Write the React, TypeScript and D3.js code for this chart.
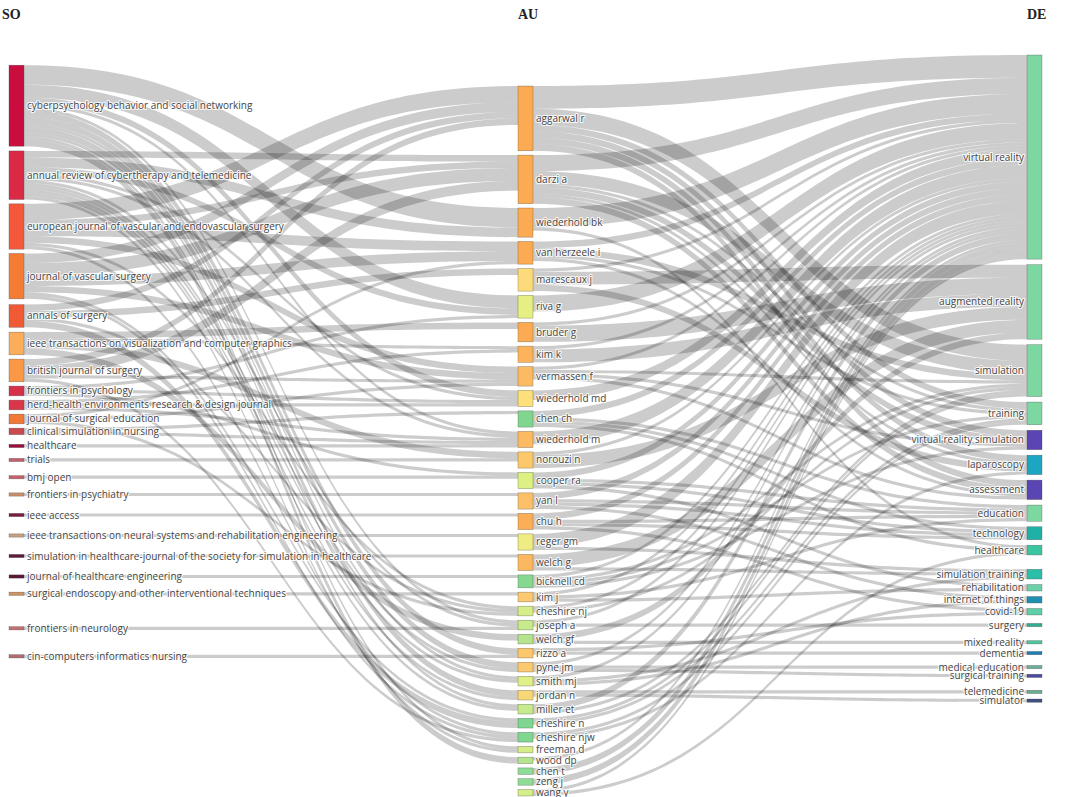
import React, { useMemo } from 'react';
import * as d3 from 'd3';

// ---------- DATA ----------
const SO = [
  'cyberpsychology behavior and social networking',
  'annual review of cybertherapy and telemedicine',
  'european journal of vascular and endovascular surgery',
  'journal of vascular surgery',
  'annals of surgery',
  'ieee transactions on visualization and computer graphics',
  'british journal of surgery',
  'frontiers in psychology',
  'herd-health environments research & design journal',
  'journal of surgical education',
  'clinical simulation in nursing',
  'healthcare',
  'trials',
  'bmj open',
  'frontiers in psychiatry',
  'ieee access',
  'ieee transactions on neural systems and rehabilitation engineering',
  'simulation in healthcare-journal of the society for simulation in healthcare',
  'journal of healthcare engineering',
  'surgical endoscopy and other interventional techniques',
  'frontiers in neurology',
  'cin-computers informatics nursing',
];

const AU = [
  'aggarwal r', 'darzi a', 'wiederhold bk', 'van herzeele i', 'marescaux j', 'riva g', 'bruder g',
  'kim k', 'vermassen f', 'wiederhold md', 'chen ch', 'wiederhold m', 'norouzi n', 'cooper ra',
  'yan l', 'chu h', 'reger gm', 'welch g', 'bicknell cd', 'kim j', 'cheshire nj', 'joseph a',
  'welch gf', 'rizzo a', 'pyne jm', 'smith mj', 'jordan n', 'miller et', 'cheshire n',
  'cheshire njw', 'freeman d', 'wood dp', 'chen t', 'zeng j', 'wang y',
];

const DE = [
  'virtual reality', 'augmented reality', 'simulation', 'training', 'virtual reality simulation',
  'laparoscopy', 'assessment', 'education', 'technology', 'healthcare', 'simulation training',
  'rehabilitation', 'internet of things', 'covid-19', 'surgery', 'mixed reality', 'dementia',
  'medical education', 'surgical training', 'telemedicine', 'simulator',
];

// source (SO) -> author (AU), value
const SO_AU: [string, string, number][] = [
  ['cyberpsychology behavior and social networking', 'wiederhold bk', 6],
  ['cyberpsychology behavior and social networking', 'riva g', 4],
  ['cyberpsychology behavior and social networking', 'wiederhold md', 2],
  ['cyberpsychology behavior and social networking', 'wiederhold m', 1],
  ['cyberpsychology behavior and social networking', 'rizzo a', 2],
  ['cyberpsychology behavior and social networking', 'pyne jm', 2],
  ['cyberpsychology behavior and social networking', 'joseph a', 1],
  ['cyberpsychology behavior and social networking', 'jordan n', 2],
  ['cyberpsychology behavior and social networking', 'freeman d', 1],
  ['cyberpsychology behavior and social networking', 'wood dp', 2],
  ['cyberpsychology behavior and social networking', 'miller et', 1],
  ['cyberpsychology behavior and social networking', 'smith mj', 1],
  ['annual review of cybertherapy and telemedicine', 'darzi a', 2],
  ['annual review of cybertherapy and telemedicine', 'wiederhold bk', 3],
  ['annual review of cybertherapy and telemedicine', 'riva g', 2],
  ['annual review of cybertherapy and telemedicine', 'wiederhold md', 1],
  ['annual review of cybertherapy and telemedicine', 'wiederhold m', 1],
  ['annual review of cybertherapy and telemedicine', 'pyne jm', 1],
  ['annual review of cybertherapy and telemedicine', 'joseph a', 1],
  ['annual review of cybertherapy and telemedicine', 'jordan n', 1],
  ['annual review of cybertherapy and telemedicine', 'freeman d', 1],
  ['annual review of cybertherapy and telemedicine', 'miller et', 1],
  ['annual review of cybertherapy and telemedicine', 'smith mj', 1],
  ['european journal of vascular and endovascular surgery', 'aggarwal r', 5],
  ['european journal of vascular and endovascular surgery', 'darzi a', 2],
  ['european journal of vascular and endovascular surgery', 'van herzeele i', 3],
  ['european journal of vascular and endovascular surgery', 'vermassen f', 2],
  ['european journal of vascular and endovascular surgery', 'cheshire nj', 1],
  ['european journal of vascular and endovascular surgery', 'cheshire njw', 1],
  ['journal of vascular surgery', 'aggarwal r', 3],
  ['journal of vascular surgery', 'darzi a', 4],
  ['journal of vascular surgery', 'van herzeele i', 3],
  ['journal of vascular surgery', 'vermassen f', 2],
  ['journal of vascular surgery', 'cheshire n', 1],
  ['journal of vascular surgery', 'cheshire njw', 1],
  ['annals of surgery', 'aggarwal r', 2],
  ['annals of surgery', 'marescaux j', 2],
  ['annals of surgery', 'cheshire nj', 1],
  ['annals of surgery', 'cheshire n', 2],
  ['ieee transactions on visualization and computer graphics', 'bruder g', 2],
  ['ieee transactions on visualization and computer graphics', 'kim k', 1],
  ['ieee transactions on visualization and computer graphics', 'norouzi n', 2],
  ['ieee transactions on visualization and computer graphics', 'welch gf', 2],
  ['british journal of surgery', 'aggarwal r', 2],
  ['british journal of surgery', 'darzi a', 3],
  ['british journal of surgery', 'vermassen f', 1],
  ['british journal of surgery', 'cheshire njw', 1],
  ['frontiers in psychology', 'riva g', 1],
  ['frontiers in psychology', 'wiederhold md', 1],
  ['frontiers in psychology', 'cooper ra', 1],
  ['herd-health environments research & design journal', 'kim k', 1],
  ['herd-health environments research & design journal', 'wiederhold md', 1],
  ['herd-health environments research & design journal', 'wiederhold m', 1],
  ['journal of surgical education', 'van herzeele i', 1],
  ['journal of surgical education', 'vermassen f', 1],
  ['journal of surgical education', 'cheshire nj', 1],
  ['clinical simulation in nursing', 'chen ch', 1],
  ['clinical simulation in nursing', 'wiederhold m', 1],
  ['healthcare', 'wiederhold m', 1],
  ['trials', 'norouzi n', 1],
  ['bmj open', 'cooper ra', 1],
  ['frontiers in psychiatry', 'yan l', 1],
  ['ieee access', 'chu h', 1],
  ['ieee transactions on neural systems and rehabilitation engineering', 'reger gm', 1],
  ['simulation in healthcare-journal of the society for simulation in healthcare', 'welch g', 1],
  ['journal of healthcare engineering', 'bicknell cd', 1],
  ['surgical endoscopy and other interventional techniques', 'kim j', 1],
  ['frontiers in neurology', 'joseph a', 1],
  ['cin-computers informatics nursing', 'rizzo a', 1],
];

// author (AU) -> keyword (DE), value
const AU_DE: [string, string, number][] = [
  ['aggarwal r', 'virtual reality', 7], ['aggarwal r', 'simulation', 5], ['aggarwal r', 'training', 2],
  ['aggarwal r', 'virtual reality simulation', 2], ['aggarwal r', 'assessment', 2], ['aggarwal r', 'laparoscopy', 2],
  ['darzi a', 'virtual reality', 5], ['darzi a', 'simulation', 4], ['darzi a', 'training', 1],
  ['darzi a', 'virtual reality simulation', 2], ['darzi a', 'assessment', 2], ['darzi a', 'laparoscopy', 1],
  ['wiederhold bk', 'virtual reality', 6], ['wiederhold bk', 'healthcare', 1],
  ['van herzeele i', 'virtual reality', 2], ['van herzeele i', 'simulation', 2], ['van herzeele i', 'training', 1],
  ['van herzeele i', 'assessment', 1],
  ['marescaux j', 'augmented reality', 4], ['marescaux j', 'laparoscopy', 2], ['marescaux j', 'virtual reality', 1],
  ['riva g', 'virtual reality', 5],
  ['bruder g', 'augmented reality', 5], ['bruder g', 'virtual reality', 1],
  ['kim k', 'augmented reality', 4], ['kim k', 'virtual reality', 1],
  ['vermassen f', 'virtual reality', 1], ['vermassen f', 'simulation', 1], ['vermassen f', 'virtual reality simulation', 1],
  ['vermassen f', 'assessment', 1],
  ['wiederhold md', 'virtual reality', 3],
  ['chen ch', 'healthcare', 1], ['chen ch', 'technology', 1], ['chen ch', 'virtual reality', 2], ['chen ch', 'education', 1],
  ['wiederhold m', 'virtual reality', 4],
  ['norouzi n', 'augmented reality', 4], ['norouzi n', 'virtual reality', 1],
  ['cooper ra', 'technology', 1], ['cooper ra', 'virtual reality', 2], ['cooper ra', 'education', 1],
  ['cooper ra', 'rehabilitation', 1],
  ['yan l', 'internet of things', 1], ['yan l', 'technology', 1], ['yan l', 'virtual reality', 2], ['yan l', 'education', 1],
  ['chu h', 'covid-19', 1], ['chu h', 'technology', 1], ['chu h', 'virtual reality', 2], ['chu h', 'education', 1],
  ['reger gm', 'simulation training', 1], ['reger gm', 'virtual reality', 4],
  ['welch g', 'augmented reality', 4], ['welch g', 'simulation training', 1],
  ['bicknell cd', 'virtual reality', 1], ['bicknell cd', 'simulation', 1],
  ['bicknell cd', 'virtual reality simulation', 1], ['bicknell cd', 'training', 1],
  ['kim j', 'rehabilitation', 1], ['kim j', 'education', 1], ['kim j', 'virtual reality', 1],
  ['cheshire nj', 'virtual reality', 1], ['cheshire nj', 'simulation', 1],
  ['joseph a', 'surgery', 1], ['joseph a', 'virtual reality', 1],
  ['welch gf', 'mixed reality', 1], ['welch gf', 'augmented reality', 2],
  ['rizzo a', 'dementia', 1], ['rizzo a', 'covid-19', 1],
  ['pyne jm', 'virtual reality', 1], ['pyne jm', 'medical education', 1], ['pyne jm', 'surgical training', 1],
  ['smith mj', 'simulation training', 1], ['smith mj', 'internet of things', 1], ['smith mj', 'virtual reality', 1],
  ['jordan n', 'telemedicine', 1], ['jordan n', 'simulator', 1],
  ['miller et', 'virtual reality', 2], ['miller et', 'simulation', 1],
  ['cheshire n', 'simulation', 1], ['cheshire n', 'training', 1],
  ['cheshire njw', 'training', 1], ['cheshire njw', 'laparoscopy', 1],
  ['wood dp', 'virtual reality', 1],
  ['chen t', 'virtual reality', 2],
  ['zeng j', 'virtual reality', 2],
  ['wang y', 'healthcare', 1], ['wang y', 'virtual reality', 1],
];

const FIELD_TITLES = ['SO', 'AU', 'DE'];

// ---------- STYLE ----------
const SO_COLORS = [
  '#c90d3f', '#db2a45', '#f4583a', '#f57c35', '#f05a35', '#fcad5a', '#fb9845', '#d7304a', '#d9364a',
  '#f27838', '#c94b50', '#9e0c3a', '#c2606e', '#c8606c', '#c9906a', '#7a1c40', '#c4a080', '#5e1c3c',
  '#5a1838', '#d0925e', '#c0706e', '#b06c70',
];
const AU_COLORS = [
  '#fcab52', '#fcab52', '#fcab52', '#fcab52', '#fedb7a', '#e6ef84', '#fcab52', '#fcb35a', '#fcba62',
  '#fde07c', '#80d68e', '#fcba62', '#fdc86c', '#dcf084', '#fcc068', '#fcae56', '#eeec82', '#fcb860',
  '#86d890', '#fcc870', '#d6ee88', '#c6ea8c', '#b6e48e', '#fdc86c', '#fcc870', '#e0ef88', '#f6d878',
  '#c6ea8c', '#7ed690', '#80d890', '#d6ee88', '#b6e48e', '#8edc96', '#8edc96', '#d6ee88',
];
const DE_COLORS = [
  '#7dd7a0', '#7dd7a0', '#7dd7a0', '#7dd7a0', '#5a45b2', '#1da6c2', '#5a45b2', '#7dd7a0', '#1fb0a8',
  '#3cc6a0', '#2cbfa8', '#6cd0a8', '#1f8fb2', '#5ccfa6', '#2fae92', '#4cc6a0', '#1f7fb2', '#6fae9e',
  '#4b4aa0', '#6aae90', '#3f4f80',
];

const W = 1065;
const H = 797;
const NODE_W = 15;
const COLUMN_PAD = [4.3, 4.3, 5.5];
const UNIT_PX = 3.24;
const COLUMN_TOP = [65, 86, 55];
const BOTTOM = 800;
const ITERATIONS = 8;

type Node = {
  key: string; name: string; col: number; value: number; color: string;
  x0: number; x1: number; y0: number; y1: number;
  src: Link[]; tgt: Link[];
};
type Link = { source: Node; target: Node; value: number; width: number; sy: number; ty: number };

function computeLayout() {
  const names = [SO, AU, DE];
  const colors = [SO_COLORS, AU_COLORS, DE_COLORS];
  const xScale = d3.scaleLinear().domain([0, 2]).range([9, 1027]);
  const hScale = d3.scaleLinear().domain([0, 1]).range([0, UNIT_PX]);
  const map = new Map<string, Node>();
  const columns: Node[][] = names.map((list, c) =>
    list.map((name, i) => {
      const n: Node = {
        key: c + ':' + name, name, col: c, value: 0, color: colors[c][i],
        x0: xScale(c), x1: xScale(c) + NODE_W, y0: 0, y1: 0, src: [], tgt: [],
      };
      map.set(n.key, n);
      return n;
    })
  );
  const links: Link[] = [];
  const addLinks = (rows: [string, string, number][], c: number) => {
    rows.forEach(([s, t, v]) => {
      const source = map.get(c + ':' + s)!;
      const target = map.get(c + 1 + ':' + t)!;
      const l: Link = { source, target, value: v, width: hScale(v), sy: 0, ty: 0 };
      source.src.push(l);
      target.tgt.push(l);
      links.push(l);
    });
  };
  addLinks(SO_AU, 0);
  addLinks(AU_DE, 1);

  const all = columns.flat();
  all.forEach((n) => {
    n.value = Math.max(d3.sum(n.src, (l) => l.value), d3.sum(n.tgt, (l) => l.value));
  });

  // initial stacking
  columns.forEach((col, c) => {
    let y = COLUMN_TOP[c];
    col.forEach((n) => {
      n.y0 = y;
      n.y1 = y + hScale(n.value);
      y = n.y1 + COLUMN_PAD[c];
    });
  });

  const resolve = (col: Node[], top: number, pad: number) => {
    let y = top;
    col.forEach((n) => {
      const dy = y - n.y0;
      if (dy > 0) { n.y0 += dy; n.y1 += dy; }
      y = n.y1 + pad;
    });
    const over = y - pad - BOTTOM;
    if (over > 0) {
      const last = col[col.length - 1];
      last.y0 -= over; last.y1 -= over;
      y = last.y0;
      for (let i = col.length - 2; i >= 0; i--) {
        const n = col[i];
        const d = n.y1 + pad - y;
        if (d > 0) { n.y0 -= d; n.y1 -= d; }
        y = n.y0;
      }
    }
  };

  const assignOffsets = () => {
    all.forEach((n) => {
      n.src.sort((a, b) => a.target.y0 - b.target.y0);
      n.tgt.sort((a, b) => a.source.y0 - b.source.y0);
      let y = n.y0;
      n.src.forEach((l) => { l.sy = y; y += l.width; });
      y = n.y0;
      n.tgt.forEach((l) => { l.ty = y; y += l.width; });
    });
  };

  // mass-damped relaxation of the outer columns so links run as level as possible
  for (let it = 0; it < ITERATIONS; it++) {
    [0, 2].forEach((c) => {
      assignOffsets();
      columns[c].forEach((n) => {
        const ls = c === 0 ? n.src : n.tgt;
        const w = d3.sum(ls, (l) => l.value);
        if (!(w > 0)) return;
        const desired =
          d3.sum(ls, (l) =>
            (c === 0 ? l.ty - (l.sy - n.y0) : l.sy - (l.ty - n.y0)) * l.value
          ) / w;
        const f = Math.min(1, 1 / Math.pow(n.value, 3));
        const dy = (desired - n.y0) * f;
        n.y0 += dy; n.y1 += dy;
      });
      resolve(columns[c], COLUMN_TOP[c], COLUMN_PAD[c]);
    });
  }
  assignOffsets();

  return { columns, links, xScale };
}

function linkPath(l: Link) {
  const x0 = l.source.x1;
  const x1 = l.target.x0;
  const xi = d3.interpolateNumber(x0, x1);
  const c0 = xi(0.5);
  const c1 = xi(0.5);
  const p = d3.path();
  p.moveTo(x0, l.sy);
  p.bezierCurveTo(c0, l.sy, c1, l.ty, x1, l.ty);
  p.lineTo(x1, l.ty + l.width);
  p.bezierCurveTo(c1, l.ty + l.width, c0, l.sy + l.width, x0, l.sy + l.width);
  p.closePath();
  return p.toString();
}

export default function App() {
  const { columns, links, xScale } = useMemo(computeLayout, []);
  const labelStyle: React.CSSProperties = {
    fontFamily: "'Open Sans', 'DejaVu Sans', sans-serif",
    fontSize: 10,
  };
  return (
    <svg
      width={W}
      height={H}
      style={{ position: 'absolute', left: 0, top: 0, background: '#fff' }}
    >
      <g>
        {links.map((l, i) => (
          <path key={i} d={linkPath(l)} fill="#000" fillOpacity={0.2} stroke="none" />
        ))}
      </g>
      <g>
        {columns.flat().map((n) => (
          <rect
            key={n.key}
            x={n.x0}
            y={n.y0}
            width={NODE_W}
            height={Math.max(1, n.y1 - n.y0)}
            fill={n.color}
            stroke="#444"
            strokeOpacity={0.6}
            strokeWidth={0.5}
          />
        ))}
      </g>
      <g style={labelStyle}>
        {columns.flat().map((n) => {
          const right = n.col < 2;
          return (
            <text
              key={'t' + n.key}
              x={right ? n.x1 + 3 : n.x0 - 3}
              y={(n.y0 + n.y1) / 2}
              dy="0.35em"
              textAnchor={right ? 'start' : 'end'}
              fill="#444"
              stroke="#fff"
              strokeWidth={2.2}
              strokeOpacity={0.85}
              strokeLinejoin="round"
              paintOrder="stroke"
            >
              {n.name}
            </text>
          );
        })}
      </g>
      <g>
        {FIELD_TITLES.map((t, c) => (
          <text
            key={t}
            x={c === 0 ? 2 : xScale(c)}
            y={19}
            fontFamily="'Liberation Serif', 'DejaVu Serif', serif"
            fontWeight="bold"
            fontSize={14}
            fill="#222"
          >
            {t}
          </text>
        ))}
      </g>
    </svg>
  );
}
